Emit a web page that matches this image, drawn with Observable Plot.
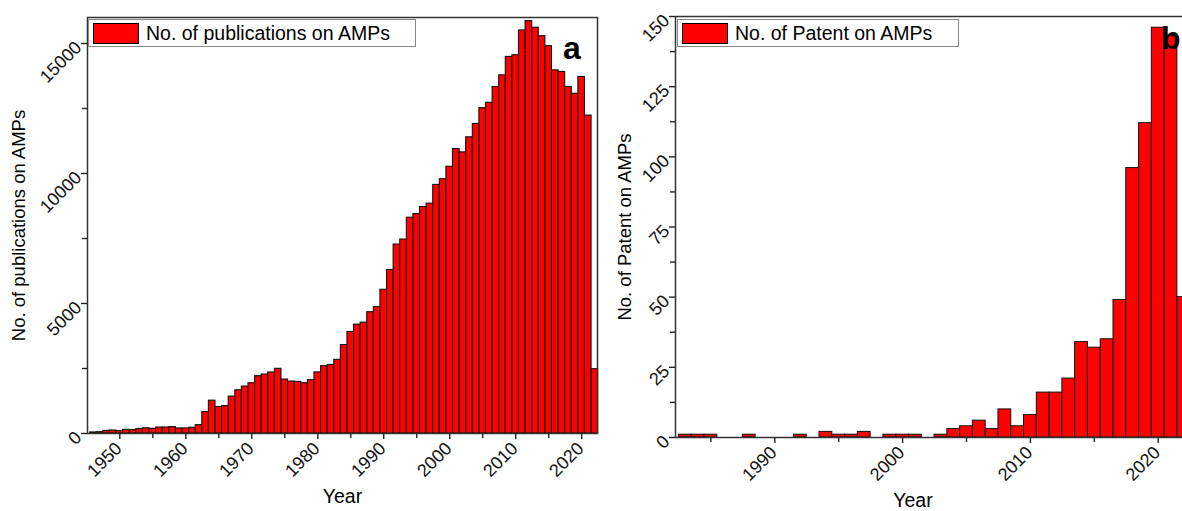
<!DOCTYPE html>
<html><head><meta charset="utf-8">
<script src="https://cdn.jsdelivr.net/npm/d3@7"></script>
<script src="https://cdn.jsdelivr.net/npm/@observablehq/plot@0.6"></script>
<style>
html,body{margin:0;padding:0;background:#fff;overflow:hidden;width:1182px;height:511px}
#wrap{position:relative;width:1182px;height:511px;overflow:hidden;font-family:"Liberation Sans",Arial,sans-serif;color:#000}
.panel{position:absolute;top:0}
.legend{position:absolute;display:flex;align-items:center;border:1px solid #888;background:#fff;height:28px;box-sizing:border-box;font-size:19.5px;white-space:nowrap}
.sw{width:46px;height:21px;background:#ff0000;border:1px solid #000;margin:0 7px 0 4px;box-sizing:border-box;flex:none}
.tag{position:absolute;font-weight:bold;font-size:32px;line-height:1}
</style></head><body><div id="wrap"></div>
<script>
// Panel a: publications per year
const pubYears = [1946,1947,1948,1949,1950,1951,1952,1953,1954,1955,1956,1957,1958,1959,1960,1961,1962,1963,1964,1965,1966,1967,1968,1969,1970,1971,1972,1973,1974,1975,1976,1977,1978,1979,1980,1981,1982,1983,1984,1985,1986,1987,1988,1989,1990,1991,1992,1993,1994,1995,1996,1997,1998,1999,2000,2001,2002,2003,2004,2005,2006,2007,2008,2009,2010,2011,2012,2013,2014,2015,2016,2017,2018,2019,2020,2021,2022];
const pubValues = [40,50,100,115,90,140,130,170,200,180,230,230,245,195,195,220,320,825,1263,1018,1057,1418,1663,1805,1934,2204,2269,2346,2488,2075,1998,1985,1934,2050,2350,2590,2635,2834,3402,3905,4187,4264,4666,4859,5528,6290,7268,7461,8300,8440,8711,8840,9562,9781,10258,10941,10813,11393,11907,12514,12719,13326,13775,14485,14549,15503,15862,15607,15282,14896,13968,13906,13326,13067,13713,12228,2474];
const pubYTicks = [0,5000,10000,15000];
const pubYMinor = [2500,7500,12500];
const pubXTicks = [1950,1960,1970,1980,1990,2000,2010,2020];
const pubXMinor = [1955,1965,1975,1985,1995,2005,2015];

// Panel b: patents per year
const patYears = [1983,1984,1985,1986,1987,1988,1989,1990,1991,1992,1993,1994,1995,1996,1997,1998,1999,2000,2001,2002,2003,2004,2005,2006,2007,2008,2009,2010,2011,2012,2013,2014,2015,2016,2017,2018,2019,2020,2021,2022];
const patValues = [1,1,1,0,0,1,0,0,0,1,0,2,1,1,2,0,1,1,1,0,1,3,4,6,3,10,4,8,16,16,21,34,32,35,49,96,112,146,143,50];
const patYTicks = [0,25,50,75,100,125,150];
const patYMinor = [12.5,37.5,62.5,87.5,112.5,137.5];
const patXTicks = [1990,2000,2010,2020];
const patXMinor = [1985,1995,2005,2015];

const pubData = pubYears.map((year, i) => ({year, value: pubValues[i]}));
const patData = patYears.map((year, i) => ({year, value: patValues[i]})).filter(d => d.value > 0);

const font = "Liberation Sans, Arial, sans-serif";
const tickFont = 18;
const wrap = document.getElementById("wrap");

function axisMarks(yTicks, yMinor, xTicks, xMinor) {
  return [
    Plot.axisY({ticks: yTicks, tickSize: 6, tickFormat: () => "", label: null, stroke: "#222", strokeWidth: 1.4}),
    Plot.axisY({ticks: yMinor, tickSize: 5, tickFormat: () => "", label: null, stroke: "#222", strokeWidth: 1.4}),
    Plot.axisX({ticks: xTicks, tickSize: 6, tickFormat: () => "", label: null, stroke: "#222", strokeWidth: 1.4}),
    Plot.axisX({ticks: xMinor, tickSize: 5, tickFormat: () => "", label: null, stroke: "#222", strokeWidth: 1.4}),
    Plot.text(yTicks, {y: d => d, text: d => String(d), frameAnchor: "left", dx: -9, dy: 1, rotate: -45, textAnchor: "end", lineAnchor: "middle", fontSize: tickFont, fill: "#111"}),
    Plot.text(xTicks, {x: d => d, text: d => String(d), frameAnchor: "bottom", dx: -1, dy: 12, rotate: -45, textAnchor: "end", lineAnchor: "middle", fontSize: tickFont, fill: "#111"})
  ];
}

const left = Plot.plot({
  width: 605, height: 511,
  marginLeft: 87, marginRight: 8, marginTop: 17, marginBottom: 78,
  style: {fontFamily: font, fontSize: "15px", color: "#000", background: "transparent", overflow: "visible"},
  x: {type: "linear", domain: [1945.1, 2022.4], axis: null},
  y: {domain: [0, 16000], axis: null},
  marks: [
    Plot.rectY(pubData, {x1: d => d.year - 0.5, x2: d => d.year + 0.5, y1: 0, y2: "value", fill: "#ff0000", stroke: "#111", strokeWidth: 1.1}),
    Plot.frame({stroke: "#333", strokeWidth: 1.5}),
    ...axisMarks(pubYTicks, pubYMinor, pubXTicks, pubXMinor),
    Plot.text(["No. of publications on AMPs"], {frameAnchor: "left", dx: -68, rotate: -90, textAnchor: "middle", lineAnchor: "middle", fontSize: 18.5}),
    Plot.text(["Year"], {frameAnchor: "bottom", dy: 63, textAnchor: "middle", lineAnchor: "middle", fontSize: 19.5})
  ]
});
left.classList.add("panel");
left.style.left = "0px";
wrap.appendChild(left);

const right = Plot.plot({
  width: 582, height: 511,
  marginLeft: 75, marginRight: 0, marginTop: 16, marginBottom: 74,
  style: {fontFamily: font, fontSize: "15px", color: "#000", background: "transparent", overflow: "visible"},
  x: {type: "linear", domain: [1982.23, 2021.9], axis: null},
  y: {domain: [0, 150], axis: null},
  marks: [
    Plot.rectY(patData, {x1: d => d.year - 0.5, x2: d => d.year + 0.5, y1: 0, y2: "value", fill: "#ff0000", stroke: "#111", strokeWidth: 1, clip: true}),
    Plot.ruleY([150], {stroke: "#333", strokeWidth: 1.5}),
    ...axisMarks(patYTicks, patYMinor, patXTicks, patXMinor),
    Plot.ruleX([1982.23], {stroke: "#333", strokeWidth: 1.5}),
    Plot.ruleY([0], {stroke: "#333", strokeWidth: 1.5}),
    Plot.text(["No. of Patent on AMPs"], {frameAnchor: "left", dx: -50, rotate: -90, textAnchor: "middle", lineAnchor: "middle", fontSize: 18.5}),
    Plot.text(["Year"], {frameAnchor: "bottom", dy: 63, dx: -16, textAnchor: "middle", lineAnchor: "middle", fontSize: 19.5})
  ]
});
right.classList.add("panel");
right.style.left = "600px";
wrap.appendChild(right);

function legend(text, x, y, w) {
  const d = document.createElement("div");
  d.className = "legend";
  d.style.left = x + "px"; d.style.top = y + "px"; d.style.width = w + "px";
  const sw = document.createElement("span"); sw.className = "sw";
  const t = document.createElement("span"); t.textContent = text;
  d.appendChild(sw); d.appendChild(t);
  wrap.appendChild(d);
}
legend("No. of publications on AMPs", 88, 19, 328);
legend("No. of Patent on AMPs", 677, 19, 282);

function tag(text, x, y) {
  const d = document.createElement("div");
  d.className = "tag"; d.textContent = text;
  d.style.left = x + "px"; d.style.top = y + "px";
  wrap.appendChild(d);
}
tag("a", 563, 32);
tag("b", 1161, 22);
</script>
</body></html>
